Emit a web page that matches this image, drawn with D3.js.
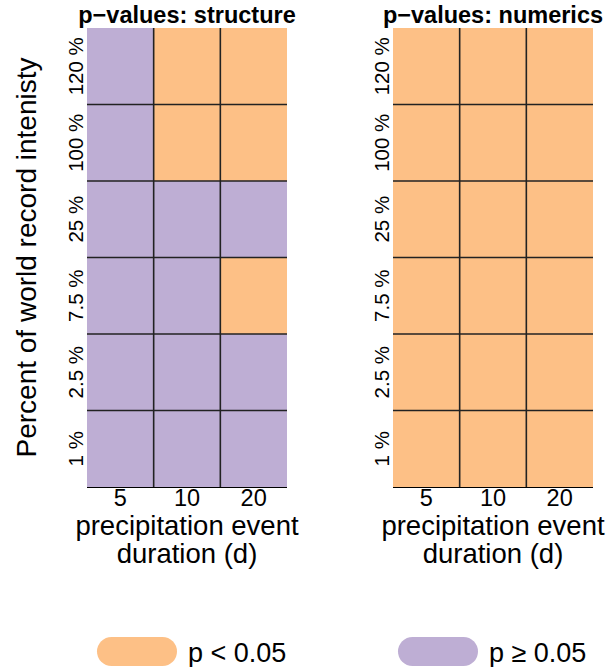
<!DOCTYPE html>
<html>
<head>
<meta charset="utf-8">
<script src="https://cdnjs.cloudflare.com/ajax/libs/d3/7.8.5/d3.min.js"></script>
<style>
  body { margin: 0; background: #fff; }
  text { font-family: "Liberation Sans", Arial, sans-serif; fill: #000; }
</style>
</head>
<body>
<svg id="chart" width="608" height="667"></svg>
<script>
const durations = ["5", "10", "20"];
const intensities = ["1 %", "2.5 %", "7.5 %", "25 %", "100 %", "120 %"];
// significant (p < 0.05) = 1, otherwise 0; rows bottom to top, columns 5/10/20
const structureSig = [
  [0, 0, 0],
  [0, 0, 0],
  [0, 0, 1],
  [0, 0, 0],
  [0, 1, 1],
  [0, 1, 1]
];
const numericsSig = [
  [1, 1, 1],
  [1, 1, 1],
  [1, 1, 1],
  [1, 1, 1],
  [1, 1, 1],
  [1, 1, 1]
];
const panelTitles = ["p\u2212values: structure", "p\u2212values: numerics"];
const legendLabels = ["p < 0.05", "p \u2265 0.05"];

const colSig = "#FDC086", colNs = "#BEAED4";
const svg = d3.select("#chart");

const gridTop = 28, gridBottom = 487, panelW = 200;
const panelX = [87, 393];

const y = d3.scaleBand().domain(intensities).range([gridBottom, gridTop]);

function drawPanel(x0, data, title) {
  const x = d3.scaleBand().domain(durations).range([x0, x0 + panelW]);
  const g = svg.append("g");

  const cells = [];
  data.forEach((row, i) => row.forEach((v, j) => cells.push({ r: intensities[i], c: durations[j], v })));
  g.selectAll("rect.cell")
    .data(cells)
    .enter()
    .append("rect")
    .attr("class", "cell")
    .attr("x", d => x(d.c))
    .attr("y", d => y(d.r))
    .attr("width", x.bandwidth())
    .attr("height", y.bandwidth())
    .attr("fill", d => d.v ? colSig : colNs);

  // inner grid lines
  g.selectAll("line.v")
    .data(durations.slice(1))
    .enter()
    .append("line")
    .attr("x1", d => x(d)).attr("x2", d => x(d))
    .attr("y1", gridTop).attr("y2", gridBottom)
    .attr("stroke", "#222").attr("stroke-width", 1.6);
  g.selectAll("line.h")
    .data(intensities.slice(1))
    .enter()
    .append("line")
    .attr("x1", x0).attr("x2", x0 + panelW)
    .attr("y1", d => y(d) + y.bandwidth()).attr("y2", d => y(d) + y.bandwidth())
    .attr("stroke", "#222").attr("stroke-width", 1.6);

  // x axis line and labels
  g.append("line")
    .attr("x1", x0).attr("x2", x0 + panelW)
    .attr("y1", gridBottom + 0.5).attr("y2", gridBottom + 0.5)
    .attr("stroke", "#000").attr("stroke-width", 1.2);
  g.selectAll("text.xt")
    .data(durations)
    .enter()
    .append("text")
    .attr("x", d => x(d) + x.bandwidth() / 2)
    .attr("y", 506)
    .attr("text-anchor", "middle")
    .style("font-size", "23.5px")
    .text(d => d);

  // y tick labels
  g.selectAll("text.yt")
    .data(intensities)
    .enter()
    .append("text")
    .attr("transform", d => `translate(${x0 - 4},${y(d) + y.bandwidth() / 2}) rotate(-90)`)
    .attr("text-anchor", "middle")
    .style("font-size", "20.5px")
    .text(d => d);

  // title
  g.append("text")
    .attr("x", x0 + panelW / 2)
    .attr("y", 23)
    .attr("text-anchor", "middle")
    .style("font-size", "23.5px")
    .style("font-weight", "bold")
    .text(title);

  // x title
  g.append("text")
    .attr("x", x0 + panelW / 2)
    .attr("y", 535)
    .attr("text-anchor", "middle")
    .style("font-size", "27.5px")
    .text("precipitation event");
  g.append("text")
    .attr("x", x0 + panelW / 2)
    .attr("y", 563)
    .attr("text-anchor", "middle")
    .style("font-size", "27.5px")
    .text("duration (d)");
}

drawPanel(panelX[0], structureSig, panelTitles[0]);
drawPanel(panelX[1], numericsSig, panelTitles[1]);

svg.append("text")
  .attr("transform", `translate(36,${(gridTop + gridBottom) / 2}) rotate(-90)`)
  .attr("text-anchor", "middle")
  .style("font-size", "28px")
  .text("Percent of world record intenisty");

// legend
const legendX = [97, 398];
const legendColors = [colSig, colNs];
legendLabels.forEach((lab, i) => {
  svg.append("rect")
    .attr("x", legendX[i]).attr("y", 637)
    .attr("width", 80).attr("height", 29)
    .attr("rx", 14.5).attr("ry", 14.5)
    .attr("fill", legendColors[i]);
  svg.append("text")
    .attr("x", legendX[i] + 91)
    .attr("y", 662)
    .style("font-size", "27px")
    .text(lab);
});
</script>
</body>
</html>
